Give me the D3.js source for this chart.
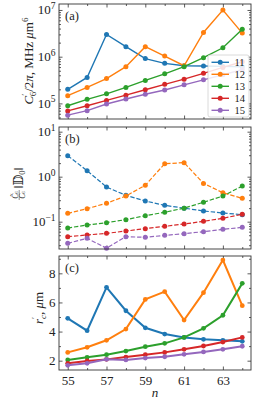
<!doctype html>
<html lang="en">

<head>
    <meta charset="utf-8">
    <title>C6 vs n</title>
    <style>
        body {
            margin: 0px;
            background: white;
        }

        text {
            font-family: "Liberation Serif", "DejaVu Serif", serif;
            fill: #222;
        }

        .frame {
            fill: none;
            stroke: #333;
            stroke-width: 0.9;
        }

        .tick line {
            stroke: #333;
            stroke-width: 0.8;
        }
    </style>
</head>

<body>
</body>
<script src="https://d3js.org/d3.v7.min.js"></script>
<script>
    // principal quantum numbers on the x axis
    let ns = [55, 56, 57, 58, 59, 60, 61, 62, 63, 64];
    let seriesNames = ['11', '12', '13', '14', '15'];
    let colors = ['#1f77b4', '#ff7f0e', '#2ca02c', '#d62728', '#9467bd'];

    // panel (a): C6'/2pi, MHz um^6
    let c6Rows = [
        [2.0e5, 3.6e5, 3.0e6, 1.64e6, 9.1e5, 7.2e5, 6.4e5, 6.3e5, 6.2e5, 6.1e5],
        [1.46e5, 2.2e5, 3.4e5, 6.1e5, 1.64e6, 1.03e6, 6.4e5, 3.3e6, 1.0e7, 3.2e6],
        [8.9e4, 1.22e5, 1.6e5, 2.2e5, 3.1e5, 4.3e5, 6.1e5, 9.5e5, 1.55e6, 3.85e6],
        [6.9e4, 8.9e4, 1.16e5, 1.5e5, 1.96e5, 2.56e5, 3.3e5, 4.4e5, 5.9e5, 7.8e5],
        [5.6e4, 7.0e4, 9.7e4, 1.24e5, 1.57e5, 1.94e5, 2.5e5, 3.2e5, 4.1e5, 5.3e5]
    ];

    // panel (b): C6~/C6 ||D0||
    let ratioRows = [
        [2.93, 1.36, 0.59, 0.385, 0.288, 0.231, 0.20, 0.173, 0.156, 0.143],
        [0.153, 0.195, 0.257, 0.372, 0.645, 1.94, 2.05, 0.71, 0.44, 0.33],
        [0.0724, 0.0845, 0.095, 0.111, 0.136, 0.162, 0.20, 0.27, 0.372, 0.62],
        [0.0465, 0.0506, 0.055, 0.062, 0.070, 0.0787, 0.0887, 0.102, 0.119, 0.146],
        [0.033, 0.0427, 0.0257, 0.0465, 0.0449, 0.0497, 0.054, 0.060, 0.0676, 0.0748]
    ];

    // panel (c): r'_c, um
    let rcRows = [
        [4.91, 4.06, 7.04, 5.43, 4.26, 3.83, 3.60, 3.47, 3.40, 3.33],
        [2.57, 2.92, 3.40, 4.17, 6.21, 6.74, 4.79, 6.67, 8.91, 5.78],
        [2.05, 2.23, 2.41, 2.66, 2.96, 3.19, 3.60, 4.22, 5.12, 7.31],
        [1.82, 1.98, 2.09, 2.25, 2.41, 2.57, 2.78, 3.01, 3.28, 3.60],
        [1.68, 1.82, 2.09, 2.05, 2.18, 2.27, 2.44, 2.60, 2.78, 2.99]
    ];

    let xTicks = [55, 57, 59, 61, 63];

    const width = 256, height = 406;
    const left = 59, right = 251;

    const svg = d3.select('body').append('svg')
        .attr('width', width)
        .attr('height', height);

    svg.append('rect').attr('width', width).attr('height', height).attr('fill', 'white');

    const x = d3.scaleLinear().domain([54.55, 64.45]).range([left, right]);

    function logMinor(domain) {
        let out = [];
        for (let e = Math.floor(Math.log10(domain[0])); e <= Math.ceil(Math.log10(domain[1])); e++) {
            for (let m = 2; m <= 9; m++) {
                let v = m * Math.pow(10, e);
                if (v > domain[0] && v < domain[1]) out.push(v);
            }
        }
        return out;
    }

    function drawPanel(opts) {
        const g = svg.append('g');
        const y = opts.y;
        const top = y.range()[1], bottom = y.range()[0];

        // x ticks, bottom and top, pointing inward
        g.append('g').attr('class', 'tick-x').attr('transform', `translate(0,${bottom})`)
            .call(d3.axisBottom(x).tickValues(xTicks).tickSize(-3.5).tickFormat(opts.xLabels ? d3.format('d') : ''))
            .call(a => a.select('.domain').remove())
            .call(a => a.selectAll('text').attr('font-size', 13).attr('dy', '0.95em').attr('fill', '#222'));
        g.append('g').attr('transform', `translate(0,${bottom})`)
            .call(d3.axisBottom(x).tickValues(d3.range(56, 65, 2)).tickSize(-2).tickFormat(''))
            .call(a => a.select('.domain').remove());
        g.append('g').attr('transform', `translate(0,${top})`)
            .call(d3.axisTop(x).tickValues(xTicks).tickSize(-3.5).tickFormat(''))
            .call(a => a.select('.domain').remove());
        g.append('g').attr('transform', `translate(0,${top})`)
            .call(d3.axisTop(x).tickValues(d3.range(56, 65, 2)).tickSize(-2).tickFormat(''))
            .call(a => a.select('.domain').remove());

        // y ticks left and right
        [[d3.axisLeft, left], [d3.axisRight, right]].forEach(([ax, pos]) => {
            g.append('g').attr('transform', `translate(${pos},0)`)
                .call(ax(y).tickValues(opts.majorY).tickSize(-3.5).tickFormat(''))
                .call(a => a.select('.domain').remove());
            g.append('g').attr('transform', `translate(${pos},0)`)
                .call(ax(y).tickValues(opts.minorY).tickSize(-2).tickFormat(''))
                .call(a => a.select('.domain').remove());
        });

        // y tick labels
        opts.majorY.forEach(v => {
            let t = g.append('text')
                .attr('x', 55.5)
                .attr('y', y(v) + 4.5)
                .attr('text-anchor', 'end')
                .attr('font-size', 13);
            if (opts.log) {
                t.append('tspan').text('10');
                t.append('tspan').attr('dy', -5.5).attr('font-size', 9.5)
                    .text(Math.round(Math.log10(v)) < 0 ? '\u2212' + Math.abs(Math.round(Math.log10(v))) : Math.round(Math.log10(v)));
            } else {
                t.text(v);
            }
        });

        // lines + markers
        const line = d3.line().x((d, i) => x(ns[i])).y(d => y(d));
        opts.rows.forEach((row, si) => {
            g.append('path')
                .attr('d', line(row))
                .attr('fill', 'none')
                .attr('stroke', colors[si])
                .attr('stroke-width', opts.lw)
                .attr('stroke-dasharray', opts.dash || null);
            g.append('g').selectAll('circle').data(row).enter()
                .append('circle')
                .attr('cx', (d, i) => x(ns[i]))
                .attr('cy', d => y(d))
                .attr('r', opts.r)
                .attr('fill', colors[si]);
        });

        g.append('rect').attr('class', 'frame')
            .attr('x', left).attr('y', top)
            .attr('width', right - left).attr('height', bottom - top);

        g.append('text').attr('x', 65).attr('y', top + opts.tagDy)
            .attr('font-size', 12.5).text(opts.tag);

        return g;
    }

    // ---- panel (a)
    const yA = d3.scaleLog().domain([Math.pow(10, 4.666), Math.pow(10, 7.128)]).range([119, 4]);
    drawPanel({
        y: yA, rows: c6Rows, log: true,
        majorY: [1e5, 1e6, 1e7], minorY: logMinor(yA.domain()),
        lw: 1.4, r: 2.5, tag: '(a)', tagDy: 15.5
    });

    // legend
    const leg = svg.append('g').attr('transform', 'translate(208,55)');
    leg.append('rect').attr('width', 41).attr('height', 62).attr('rx', 2)
        .attr('fill', 'white').attr('fill-opacity', 0.85)
        .attr('stroke', '#d0d0d0').attr('stroke-width', 0.8);
    seriesNames.forEach((s, i) => {
        let ly = 7.3 + i * 12;
        leg.append('line').attr('x1', 3.5).attr('x2', 21).attr('y1', ly).attr('y2', ly)
            .attr('stroke', colors[i]).attr('stroke-width', 1.4);
        leg.append('circle').attr('cx', 12.2).attr('cy', ly).attr('r', 2.5).attr('fill', colors[i]);
        leg.append('text').attr('x', 26.5).attr('y', ly + 3.6).attr('font-size', 10.5).text(s);
    });

    // y label (a)
    const labA = svg.append('text')
        .attr('transform', 'translate(33,61) rotate(-90)')
        .attr('text-anchor', 'middle')
        .attr('font-size', 13);
    labA.append('tspan').attr('font-style', 'italic').text('C');
    labA.append('tspan').attr('font-size', 9).attr('dy', -5).text('\u2032');
    labA.append('tspan').attr('font-size', 9).attr('dx', -2.5).attr('dy', 8).text('6');
    labA.append('tspan').attr('dy', -3).text('/2');
    labA.append('tspan').attr('font-style', 'italic').text('\u03c0');
    labA.append('tspan').text(',  MHz ');
    labA.append('tspan').attr('font-style', 'italic').text('\u03bc');
    labA.append('tspan').text('m');
    labA.append('tspan').attr('font-size', 9).attr('dy', -5).text('6');

    // ---- panel (b)
    const yB = d3.scaleLog().domain([Math.pow(10, -1.607), Math.pow(10, 1.104)]).range([249, 127]);
    drawPanel({
        y: yB, rows: ratioRows, log: true,
        majorY: [0.1, 1, 10], minorY: logMinor(yB.domain()),
        lw: 1.2, r: 2.5, dash: '4.4,1.9', tag: '(b)', tagDy: 16
    });

    // y label (b): small fraction C6~/C6 then ||D0||
    const labB = svg.append('g').attr('transform', 'translate(22,186) rotate(-90)');
    const frac = labB.append('text').attr('text-anchor', 'middle').attr('font-size', 7.5);
    frac.append('tspan').attr('x', -9).attr('y', -4.5).attr('font-style', 'italic').text('C\u0303');
    frac.append('tspan').attr('font-size', 5).text('6');
    const frac2 = labB.append('text').attr('text-anchor', 'middle').attr('font-size', 7.5);
    frac2.append('tspan').attr('x', -9).attr('y', 2.5).attr('font-style', 'italic').text('C');
    frac2.append('tspan').attr('font-size', 5).text('6');
    labB.append('line').attr('x1', -14).attr('x2', -4).attr('y1', -2.8).attr('y2', -2.8)
        .attr('stroke', '#222').attr('stroke-width', 0.5);
    const norm = labB.append('text').attr('x', -2.5).attr('y', 1).attr('font-size', 12);
    norm.append('tspan').text('\u2016\ud835\udd3b');
    norm.append('tspan').attr('font-size', 8.5).attr('dy', 2).text('0');
    norm.append('tspan').attr('dy', -2).text('\u2016');

    // ---- panel (c)
    const yC = d3.scaleLinear().domain([1.36, 9.19]).range([370, 256]);
    drawPanel({
        y: yC, rows: rcRows, log: false, xLabels: true,
        majorY: [2, 4, 6, 8], minorY: [3, 5, 7, 9],
        lw: 2, r: 2.4, tag: '(c)', tagDy: 16
    });

    // y label (c)
    const labC = svg.append('text')
        .attr('transform', 'translate(43,308) rotate(-90)')
        .attr('text-anchor', 'middle')
        .attr('font-size', 13);
    labC.append('tspan').attr('font-style', 'italic').text('r');
    labC.append('tspan').attr('font-size', 9).attr('dy', -5).text('\u2032');
    labC.append('tspan').attr('font-size', 9).attr('font-style', 'italic').attr('dx', -2).attr('dy', 8).text('c');
    labC.append('tspan').attr('dy', -3).text(', ');
    labC.append('tspan').attr('font-style', 'italic').text('\u03bc');
    labC.append('tspan').text('m');

    // x label
    svg.append('text').attr('x', 155).attr('y', 397)
        .attr('text-anchor', 'middle').attr('font-size', 13).attr('font-style', 'italic').text('n');
</script>

</html>
